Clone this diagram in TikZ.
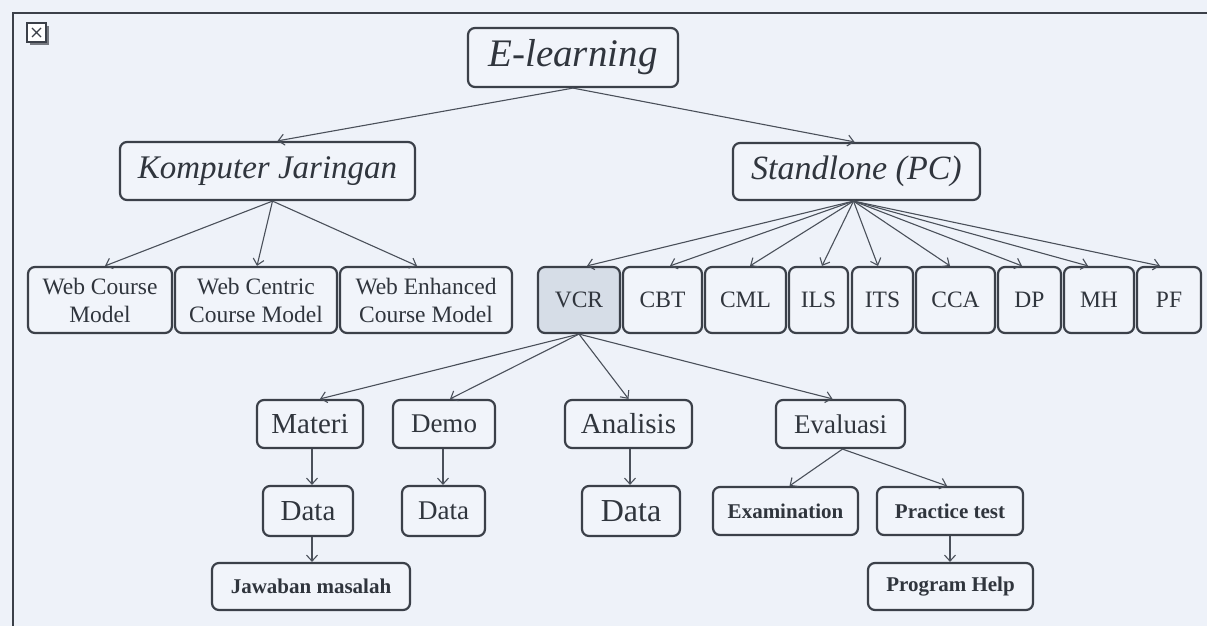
\documentclass[tikz,border=0pt]{standalone}
\usepackage{fontspec}
\setmainfont{Liberation Serif}
\usetikzlibrary{arrows.meta}
\definecolor{bgc}{HTML}{EEF2F9}
\definecolor{boxfill}{HTML}{F1F4FA}
\definecolor{vcrfill}{HTML}{D6DDE7}
\definecolor{linec}{HTML}{3B4049}
\definecolor{arrc}{HTML}{4A505A}
\definecolor{txtc}{HTML}{30353D}
\tikzset{
  box/.style={draw=linec, line width=2.2pt, rounded corners=7pt, fill=boxfill,
    inner sep=0pt, align=center, text=txtc},
  big/.style={font=\fontsize{33}{38}\selectfont\itshape},
  mid/.style={font=\fontsize{23.5}{28}\selectfont, minimum height=66pt},
  low/.style={font=\fontsize{29}{34}\selectfont, minimum height=48pt},
  bld/.style={font=\fontsize{21}{25}\selectfont\bfseries, minimum height=48pt},
  arr/.style={draw=arrc, line width=1.1pt, -{Straight Barb[length=6pt,width=11pt]}},
}
\begin{document}
\begin{tikzpicture}[x=1pt,y=-1pt]
\fill[bgc] (0,0) rectangle (1207,626);
\useasboundingbox (0,0) rectangle (1207,626);
% frame
\draw[linec, line width=2pt] (13,630) -- (13,13) -- (1210,13);
% image placeholder icon
\fill[linec!70] (30,26) rectangle (49,45);
\draw[linec, line width=1.2pt, fill=white] (27,23) rectangle (46,42);
\draw[linec, line width=1.4pt] (32,28) -- (41,37) (41,28) -- (32,37);

% level 0/1
\node[box, font=\fontsize{39}{44}\selectfont\itshape, minimum width=210pt, minimum height=59pt] (el) at (573,57.5) {E-learning};
\node[box, big, minimum width=295pt, minimum height=58pt] (kj) at (267.5,171) {Komputer Jaringan};
\node[box, big, font=\fontsize{34}{38}\selectfont\itshape, minimum width=247pt, minimum height=57pt] (sp) at (856.5,171.5) {Standlone (PC)};

% level 2 left
\node[box, mid, minimum width=144pt] (wcm) at (100,300) {Web Course\\Model};
\node[box, mid, minimum width=162pt] (wcc) at (256,300) {Web Centric\\Course Model};
\node[box, mid, minimum width=172pt] (wce) at (426,300) {Web Enhanced\\Course Model};

% level 2 right
\node[box, mid, fill=vcrfill, minimum width=82pt] (vcr) at (579,300) {VCR};
\node[box, mid, minimum width=79pt] (cbt) at (662.5,300) {CBT};
\node[box, mid, minimum width=81pt] (cml) at (745.5,300) {CML};
\node[box, mid, minimum width=59pt] (ils) at (818.5,300) {ILS};
\node[box, mid, minimum width=61pt] (its) at (882.5,300) {ITS};
\node[box, mid, minimum width=79pt] (cca) at (955.5,300) {CCA};
\node[box, mid, minimum width=63pt] (dp) at (1029.5,300) {DP};
\node[box, mid, minimum width=70pt] (mh) at (1099,300) {MH};
\node[box, mid, minimum width=64pt] (pf) at (1169,300) {PF};

% level 3
\node[box, low, minimum width=106pt] (mat) at (310,424) {Materi};
\node[box, low, font=\fontsize{27}{32}\selectfont, minimum width=102pt] (demo) at (444,424) {Demo};
\node[box, low, minimum width=127pt] (ana) at (628.5,424) {Analisis};
\node[box, low, font=\fontsize{27}{32}\selectfont, minimum width=129pt] (eva) at (840.5,424) {Evaluasi};

% level 4
\node[box, low, minimum width=90pt, minimum height=50pt] (d1) at (308,511) {Data};
\node[box, low, font=\fontsize{27}{32}\selectfont, minimum width=83pt, minimum height=50pt] (d2) at (443.5,511) {Data};
\node[box, low, font=\fontsize{32}{36}\selectfont, minimum width=98pt, minimum height=50pt] (d3) at (631,511) {Data};
\node[box, bld, minimum width=145pt] (exa) at (785.5,511) {Examination};
\node[box, bld, minimum width=146pt] (pt) at (950,511) {Practice test};

% level 5
\node[box, bld, minimum width=198pt, minimum height=47pt] (jm) at (311,586.5) {Jawaban masalah};
\node[box, bld, minimum width=165pt, minimum height=47pt] (ph) at (950.5,586.5) {Program Help};

% connectors
\draw[arr] (el.south) -- ([xshift=10pt]kj.north);
\draw[arr] (el.south) -- ([xshift=-2pt]sp.north);

\draw[arr] ([xshift=5pt]kj.south) -- ([xshift=5pt]wcm.north);
\draw[arr] ([xshift=5pt]kj.south) -- ([xshift=1pt]wcc.north);
\draw[arr] ([xshift=5pt]kj.south) -- ([xshift=-9pt]wce.north);

\draw[arr] ([xshift=-3pt]sp.south) -- ([xshift=8pt]vcr.north);
\draw[arr] ([xshift=-3pt]sp.south) -- ([xshift=7.5pt]cbt.north);
\draw[arr] ([xshift=-3pt]sp.south) -- ([xshift=4.5pt]cml.north);
\draw[arr] ([xshift=-3pt]sp.south) -- ([xshift=3.5pt]ils.north);
\draw[arr] ([xshift=-3pt]sp.south) -- ([xshift=-4.5pt]its.north);
\draw[arr] ([xshift=-3pt]sp.south) -- ([xshift=-5.5pt]cca.north);
\draw[arr] ([xshift=-3pt]sp.south) -- ([xshift=-7.5pt]dp.north);
\draw[arr] ([xshift=-3pt]sp.south) -- ([xshift=-11pt]mh.north);
\draw[arr] ([xshift=-3pt]sp.south) -- ([xshift=-9pt]pf.north);

\draw[arr] (vcr.south) -- ([xshift=10pt]mat.north);
\draw[arr] (vcr.south) -- ([xshift=6pt]demo.north);
\draw[arr] (vcr.south) -- (ana.north);
\draw[arr] (vcr.south) -- ([xshift=-8pt]eva.north);

\draw[arr] ([xshift=2pt]eva.south) -- ([xshift=4pt]exa.north);
\draw[arr] ([xshift=2pt]eva.south) -- ([xshift=-3pt]pt.north);

\draw[arr] ([xshift=2pt]mat.south) -- ([xshift=2pt]mat.south |- d1.north);
\draw[arr] ([xshift=4pt]d1.south) -- ([xshift=4pt]d1.south |- jm.north);
\draw[arr] ([xshift=-1pt]demo.south) -- ([xshift=-1pt]demo.south |- d2.north);
\draw[arr] ([xshift=1.5pt]ana.south) -- ([xshift=1.5pt]ana.south |- d3.north);
\draw[arr] (pt.south) -- (pt.south |- ph.north);
\end{tikzpicture}
\end{document}
